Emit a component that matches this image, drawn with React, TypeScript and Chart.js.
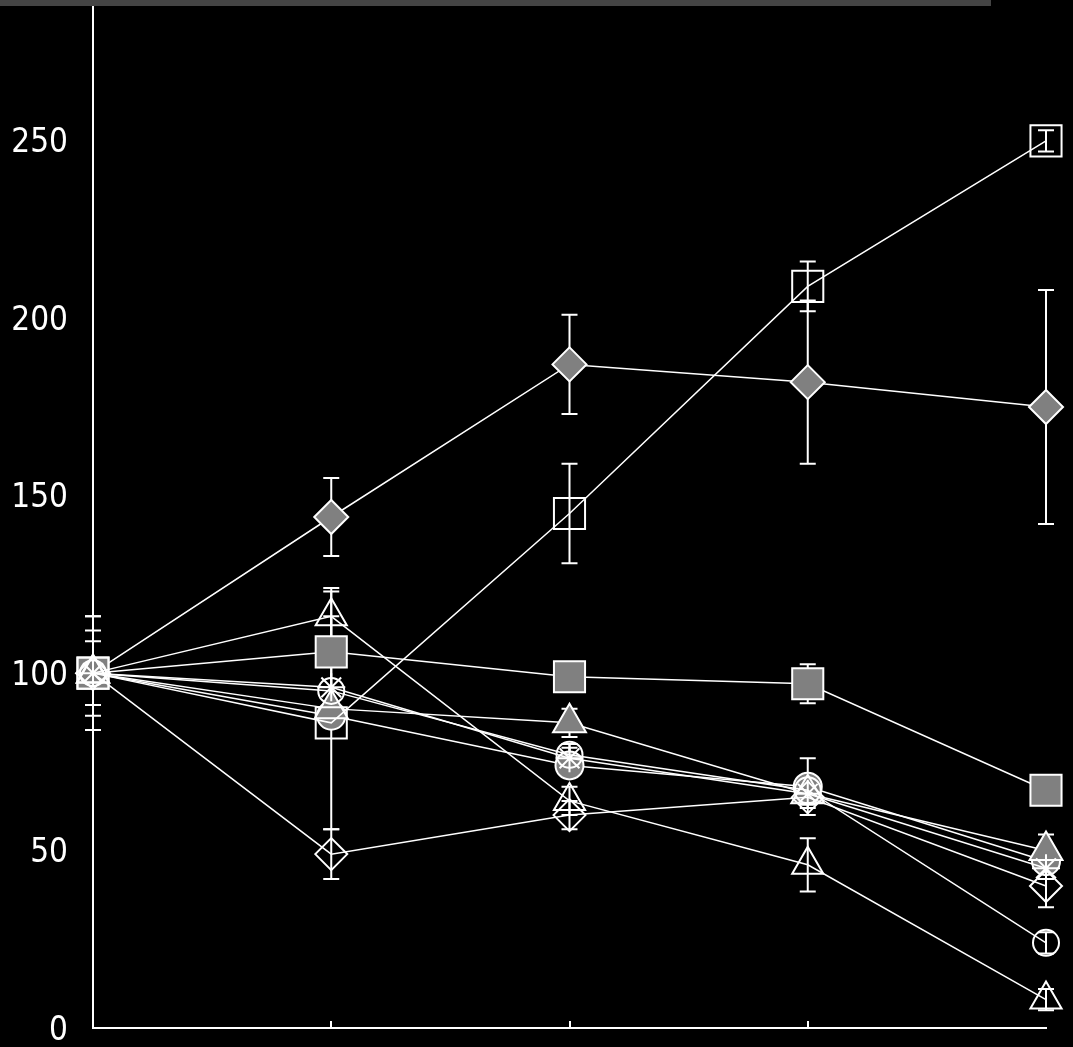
import React, { useEffect, useRef } from "react";
import { Chart, registerables } from "chart.js";

Chart.register(...registerables);

// x positions (categories 0..4, no labels shown)
const xValues = [0, 1, 2, 3, 4];
const yTickValues = [0, 50, 100, 150, 200, 250];

// series values
const grayDiamond = [100, 144, 187, 182, 175];
const grayDiamondErr = [9, 11, 14, 23, 33];
const openSquare = [100, 86, 145, 209, 250];
const openSquareErr = [0, 30, 14, 7, 3];
const graySquare = [100, 106, 99, 97, 67];
const graySquareErr = [12, 17, 2, 5.5, 4];
const grayTriangle = [100, 90, 86, 66, 50];
const grayTriangleErr = [0, 0, 4, 3, 4.5];
const openTriangle = [100, 116, 64, 46, 8];
const openTriangleErr = [16, 8, 4, 7.5, 3];
const openDiamond = [100, 49, 60, 65, 40];
const openDiamondErr = [16, 7, 4, 3, 6];
const openCircle = [100, 95, 77, 67, 24];
const openCircleErr = [0, 0, 3, 3, 3];
const grayCircle = [100, 88, 74, 68, 47];
const grayCircleErr = [0, 0, 3, 8, 3];
const openStar = [100, 96, 76, 66, 45];
const openStarErr = [0, 0, 3, 3, 3];

const GRAY = "#808080";
const WHITE = "#ffffff";
const NONE = "rgba(0,0,0,0)";

type Series = { data: number[]; err: number[]; style: string; fill: string; radius: number };

// Chart.js draws the first dataset on top
const seriesList: Series[] = [
  { data: openStar, err: openStarErr, style: "star", fill: NONE, radius: 14 },
  { data: openCircle, err: openCircleErr, style: "circle", fill: NONE, radius: 13 },
  { data: openDiamond, err: openDiamondErr, style: "rectRot", fill: NONE, radius: 16 },
  { data: openTriangle, err: openTriangleErr, style: "triangle", fill: NONE, radius: 18 },
  { data: openSquare, err: openSquareErr, style: "rect", fill: NONE, radius: 22 },
  { data: grayTriangle, err: grayTriangleErr, style: "triangle", fill: GRAY, radius: 19 },
  { data: graySquare, err: graySquareErr, style: "rect", fill: GRAY, radius: 22 },
  { data: grayDiamond, err: grayDiamondErr, style: "rectRot", fill: GRAY, radius: 17 },
  { data: grayCircle, err: grayCircleErr, style: "circle", fill: GRAY, radius: 14 },
];

const errorBarPlugin = {
  id: "errorBars",
  beforeDatasetsDraw(chart: any) {
    const ctx = chart.ctx;
    const xs = chart.scales.x;
    const ys = chart.scales.y;
    ctx.save();
    ctx.strokeStyle = WHITE;
    ctx.lineWidth = 2;
    seriesList.forEach((s) => {
      s.data.forEach((v, i) => {
        const e = s.err[i];
        if (!e) return;
        const px = xs.getPixelForValue(xValues[i]);
        const top = ys.getPixelForValue(v + e);
        const bot = ys.getPixelForValue(Math.max(0, v - e));
        ctx.beginPath();
        ctx.moveTo(px, top);
        ctx.lineTo(px, bot);
        ctx.moveTo(px - 8, top);
        ctx.lineTo(px + 8, top);
        ctx.moveTo(px - 8, bot);
        ctx.lineTo(px + 8, bot);
        ctx.stroke();
      });
    });
    ctx.restore();
  },
  afterDraw(chart: any) {
    const ctx = chart.ctx;
    const xs = chart.scales.x;
    const bottom = chart.chartArea.bottom;
    ctx.save();
    ctx.strokeStyle = WHITE;
    ctx.lineWidth = 2;
    [1, 2, 3].forEach((v) => {
      const px = Math.round(xs.getPixelForValue(v));
      ctx.beginPath();
      ctx.moveTo(px, bottom);
      ctx.lineTo(px, bottom - 7);
      ctx.stroke();
    });
    ctx.restore();
  },
};

export default function App() {
  const ref = useRef<HTMLCanvasElement | null>(null);
  useEffect(() => {
    document.body.style.margin = "0";
    document.body.style.background = "#000";
    const canvas = ref.current!;
    const chart = new Chart(canvas, {
      type: "line",
      data: {
        datasets: seriesList.map((s) => ({
          data: s.data.map((v, i) => ({ x: xValues[i], y: v })),
          borderColor: WHITE,
          borderWidth: 1.5,
          backgroundColor: s.fill,
          pointStyle: s.style as any,
          pointRadius: s.radius,
          pointBackgroundColor: s.fill,
          pointBorderColor: WHITE,
          pointBorderWidth: 2,
          fill: false,
          tension: 0,
          clip: false as any,
        })),
      },
      options: {
        animation: false,
        responsive: false,
        maintainAspectRatio: false,
        events: [],
        layout: { autoPadding: false, padding: { left: 0, top: 6, right: 27, bottom: 19 } },
        plugins: { legend: { display: false }, tooltip: { enabled: false } },
        scales: {
          x: {
            type: "linear",
            min: 0,
            max: 4,
            ticks: { display: false },
            grid: { display: false, drawTicks: false },
            border: { display: true, color: WHITE, width: 2 },
            afterFit: (scale: any) => {
              scale.height = 0;
              scale.paddingLeft = 0;
              scale.paddingRight = 0;
              scale.paddingTop = 0;
              scale.paddingBottom = 0;
            },
          },
          y: {
            type: "linear",
            min: 0,
            max: 288,
            afterBuildTicks: (scale: any) => {
              scale.ticks = yTickValues.map((v) => ({ value: v }));
            },
            ticks: {
              color: WHITE,
              padding: 25,
              labelOffset: 3,
              font: { family: "'DejaVu Sans Condensed', 'Liberation Sans Narrow', Roboto, sans-serif", size: 33 },
            },
            grid: { display: false, drawTicks: false },
            border: { display: true, color: WHITE, width: 2 },
            afterFit: (scale: any) => {
              scale.width = 93;
              scale.paddingTop = 0;
              scale.paddingBottom = 0;
              scale.paddingLeft = 0;
              scale.paddingRight = 0;
            },
          },
        },
      },
      plugins: [errorBarPlugin],
    });
    return () => chart.destroy();
  }, []);
  return (
    <div style={{ position: "fixed", left: 0, top: 0, width: 1073, height: 1047, background: "#000" }}>
      <canvas ref={ref} width={1073} height={1047} style={{ display: "block", width: 1073, height: 1047 }} />
      <div style={{ position: "absolute", left: 0, top: 0, width: 991, height: 6, background: "#444" }} />
    </div>
  );
}
